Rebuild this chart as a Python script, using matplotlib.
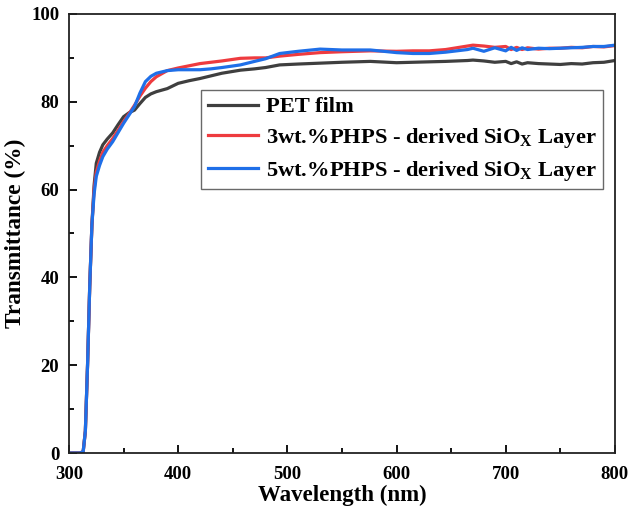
import matplotlib
matplotlib.use("Agg")
import matplotlib.pyplot as plt
from matplotlib.ticker import MultipleLocator

plt.rcParams["font.family"] = ["Liberation Serif", "DejaVu Serif"]
plt.rcParams["font.weight"] = "bold"
plt.rcParams["mathtext.fontset"] = "custom"
plt.rcParams["mathtext.rm"] = "Liberation Serif:bold"
plt.rcParams["mathtext.bf"] = "Liberation Serif:bold"

# Wavelength grid (nm)
wavelength = [300, 310, 313, 315, 317, 319, 321, 323, 325, 328, 331, 335, 340,
              345, 350, 355, 360, 365, 370, 375, 380, 390, 400, 410, 420, 430,
              440, 457, 470, 480, 493, 510, 530, 550, 576, 600, 615, 630, 645,
              655, 665, 670, 680, 690, 700, 705, 710, 715, 720, 730, 740, 750,
              760, 770, 780, 790, 800]

# Transmittance (%)
pet_film = [0, 0, 0.3, 5, 20, 38, 52, 61, 66, 68.5, 70.2, 71.5, 72.9,
            74.8, 76.6, 77.5, 78.1, 79.6, 81.0, 81.8, 82.3, 83.0, 84.2, 84.8, 85.3, 85.9,
            86.5, 87.2, 87.5, 87.8, 88.4, 88.6, 88.8, 89.0, 89.2, 88.9, 89.0, 89.1, 89.2,
            89.3, 89.4, 89.5, 89.3, 89.0, 89.2, 88.7, 89.1, 88.6, 88.9, 88.7, 88.6, 88.5,
            88.7, 88.6, 88.9, 89.0, 89.4]
phps_3wt = [0, 0, 0.3, 5, 20, 38, 52, 60, 64, 66.5, 68.5, 70.0, 71.6,
            73.5, 75.5, 77.3, 79.2, 81.3, 83.1, 84.6, 85.7, 87.1, 87.7, 88.2, 88.7, 89.0,
            89.3, 89.9, 90.0, 90.0, 90.4, 90.8, 91.2, 91.4, 91.6, 91.5, 91.6, 91.6, 91.9,
            92.3, 92.7, 92.9, 92.7, 92.4, 92.6, 91.9, 92.4, 91.9, 92.3, 92.0, 92.2, 92.2,
            92.4, 92.3, 92.6, 92.5, 92.8]
phps_5wt = [0, 0, 0.3, 5, 20, 38, 52, 59, 63, 65.5, 67.5, 69.2, 70.9,
            73.0, 75.1, 77.0, 78.9, 82.0, 84.6, 85.8, 86.5, 87.1, 87.3, 87.3, 87.3, 87.5,
            87.8, 88.4, 89.2, 89.8, 91.0, 91.5, 92.0, 91.8, 91.8, 91.2, 91.0, 91.0, 91.3,
            91.6, 91.9, 92.2, 91.5, 92.3, 91.6, 92.4, 91.7, 92.3, 91.9, 92.2, 92.1, 92.2,
            92.3, 92.4, 92.6, 92.6, 92.9]

fig = plt.figure(figsize=(6.3, 5.12), dpi=100)
ax = fig.add_axes([0.1095, 0.1152, 0.8665, 0.8575])

ax.plot(wavelength, pet_film, color="#3f3f3f", lw=2.3, label="PET film")
ax.plot(wavelength, phps_3wt, color="#ee3b3f", lw=2.3,
        label=r"3wt.%PHPS - derived SiO$_{\mathrm{X}}$ Layer")
ax.plot(wavelength, phps_5wt, color="#1f6fe8", lw=2.3,
        label=r"5wt.%PHPS - derived SiO$_{\mathrm{X}}$ Layer")

ax.set_xlim(300, 800)
ax.set_ylim(0, 100)
ax.xaxis.set_major_locator(MultipleLocator(100))
ax.xaxis.set_minor_locator(MultipleLocator(50))
ax.yaxis.set_major_locator(MultipleLocator(20))
ax.yaxis.set_minor_locator(MultipleLocator(10))
ax.tick_params(which="both", direction="in", top=False, right=False,
               labelsize=13.5, width=1.3)
ax.tick_params(axis="x", pad=9)
ax.tick_params(axis="y", pad=7)
ax.tick_params(which="major", length=6)
ax.tick_params(which="minor", length=3.5)
for s in ax.spines.values():
    s.set_linewidth(1.3)
    s.set_color("#222222")

ax.set_xlabel("Wavelength (nm)", fontsize=16.5, fontweight="bold", labelpad=2)
ax.set_ylabel("Transmittance (%)", fontsize=16.8, fontweight="bold", labelpad=4)

leg = ax.legend(loc="upper right", bbox_to_anchor=(0.978, 0.827), borderaxespad=0,
                fontsize=16.2, frameon=True, fancybox=False, edgecolor="#444444",
                handlelength=2.2, labelspacing=0.38, borderpad=0.3,
                handletextpad=0.35)
leg.get_frame().set_linewidth(1.0)

fig.savefig("out.png", dpi=100)
